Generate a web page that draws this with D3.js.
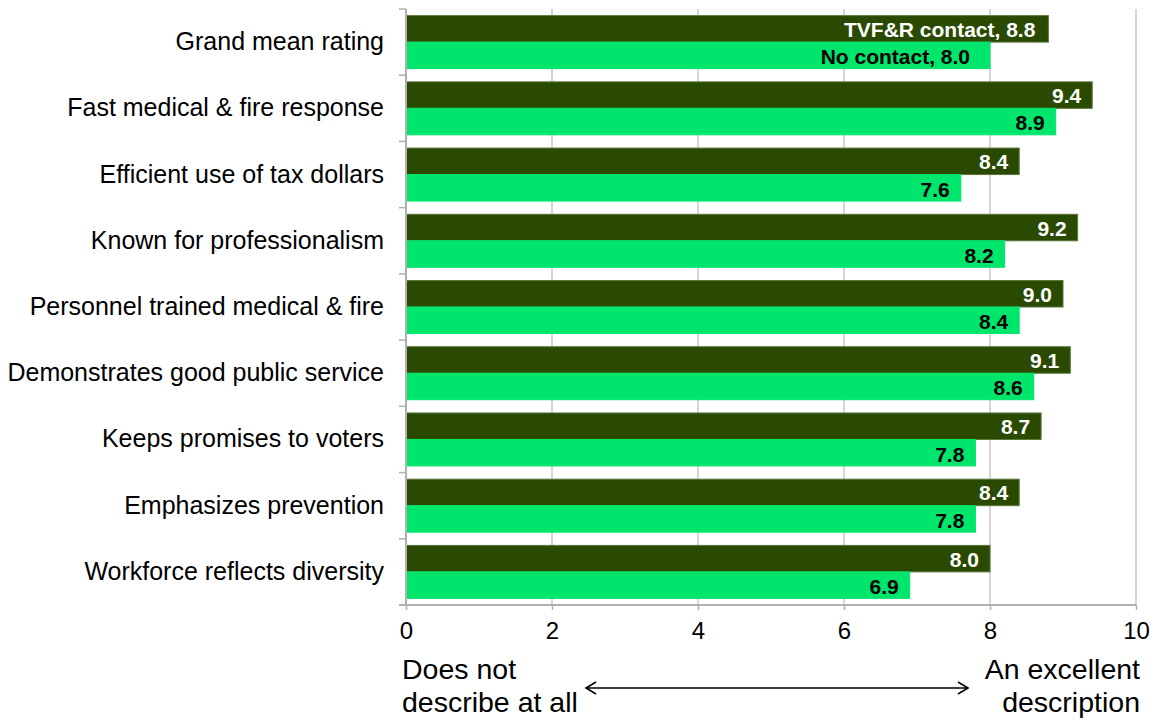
<!DOCTYPE html>
<html>
<head>
<meta charset="utf-8">
<script src="https://cdn.jsdelivr.net/npm/d3@7"></script>
<style>
  html, body { margin: 0; padding: 0; background: #ffffff; }
  svg { display: block; font-family: Arial, "Liberation Sans", sans-serif; }
</style>
</head>
<body>
<svg id="chart" width="1156" height="721"></svg>
<script>
// Ratings on a 0–10 scale, by whether the respondent had contact with TVF&R
const categories = [
  "Grand mean rating",
  "Fast medical & fire response",
  "Efficient use of tax dollars",
  "Known for professionalism",
  "Personnel trained medical & fire",
  "Demonstrates good public service",
  "Keeps promises to voters",
  "Emphasizes prevention",
  "Workforce reflects diversity"
];
const contactValues   = [8.8, 9.4, 8.4, 9.2, 9.0, 9.1, 8.7, 8.4, 8.0];
const noContactValues = [8.0, 8.9, 7.6, 8.2, 8.4, 8.6, 7.8, 7.8, 6.9];
const seriesNames = ["TVF&R contact", "No contact"];
const xTicks = [0, 2, 4, 6, 8, 10];
const scaleLowLabel  = ["Does not", "describe at all"];
const scaleHighLabel = ["An excellent", "description"];

const svg = d3.select("#chart");

const x = d3.scaleLinear().domain([0, 10]).range([406, 1136]);
const y = d3.scaleBand().domain(categories).range([9, 605])
  .paddingInner(0.2).paddingOuter(0.1);
const sub = d3.scaleBand().domain(seriesNames).range([0, y.bandwidth()]);

const colors = { "TVF&R contact": "#294a00", "No contact": "#00e66c" };
const strokes = { "TVF&R contact": "#5b773a", "No contact": "#00e66c" };
const labelColors = { "TVF&R contact": "#ffffff", "No contact": "#000000" };

const rows = categories.map((c, i) => ({
  category: c,
  index: i,
  values: [
    { series: seriesNames[0], value: contactValues[i] },
    { series: seriesNames[1], value: noContactValues[i] }
  ]
}));

// vertical gridlines
svg.append("g").selectAll("line")
  .data(xTicks.filter(d => d > 0))
  .join("line")
  .attr("x1", d => x(d)).attr("x2", d => x(d))
  .attr("y1", 9).attr("y2", 605)
  .attr("stroke", "#c9c9c9").attr("stroke-width", 1.5);

// bars
const groups = svg.append("g").selectAll("g")
  .data(rows)
  .join("g")
  .attr("transform", d => `translate(0,${y(d.category)})`);

groups.selectAll("rect")
  .data(d => d.values)
  .join("rect")
  .attr("x", x(0))
  .attr("y", d => sub(d.series))
  .attr("width", d => x(d.value) - x(0))
  .attr("height", sub.bandwidth())
  .attr("fill", d => colors[d.series])
  .attr("stroke", d => strokes[d.series])
  .attr("stroke-width", 1);

// value labels inside the bar ends; the first group also names the series
const labelInset = (row, d) => {
  if (row.index === 0) return d.series === seriesNames[0] ? 13 : 20;
  return 11;
};
groups.each(function (row) {
  d3.select(this).selectAll("text")
    .data(row.values)
    .join("text")
    .attr("x", d => x(d.value) - labelInset(row, d))
    .attr("y", d => sub(d.series) + sub.bandwidth() / 2)
    .attr("dy", d => d.series === seriesNames[0] ? "0.38em" : "0.42em")
    .attr("text-anchor", "end")
    .attr("font-size", 21)
    .attr("font-weight", "bold")
    .attr("fill", d => labelColors[d.series])
    .text(d => row.index === 0 ? `${d.series}, ${d3.format(".1f")(d.value)}` : d3.format(".1f")(d.value));
});

// category axis
const yAxis = svg.append("g")
  .attr("transform", `translate(${x(0)},0)`)
  .call(d3.axisLeft(y).tickSize(0).tickPadding(22));
yAxis.select(".domain").remove();
yAxis.selectAll("text").attr("font-size", 25).attr("fill", "#000").attr("font-family", "Arial, 'Liberation Sans', sans-serif");

// left axis line with ticks at category boundaries
const boundaries = d3.range(categories.length + 1).map(i => 9 + i * y.step());
svg.append("line")
  .attr("x1", x(0)).attr("x2", x(0)).attr("y1", 9).attr("y2", 605)
  .attr("stroke", "#b0b0b0").attr("stroke-width", 2);
svg.append("g").selectAll("line")
  .data(boundaries)
  .join("line")
  .attr("x1", x(0) - 7).attr("x2", x(0))
  .attr("y1", d => d).attr("y2", d => d)
  .attr("stroke", "#b0b0b0").attr("stroke-width", 1.5);

// value axis
const xAxis = svg.append("g")
  .attr("transform", "translate(0,605)")
  .call(d3.axisBottom(x).tickValues(xTicks).tickSize(5).tickPadding(12).tickFormat(d3.format("d")));
xAxis.select(".domain").attr("stroke", "#b0b0b0").attr("stroke-width", 2)
  .attr("d", `M${x(0) - 7},0H${x(10)}`);
xAxis.selectAll(".tick line").attr("stroke", "#b0b0b0").attr("stroke-width", 1.5);
xAxis.selectAll("text").attr("font-size", 24).attr("fill", "#000").attr("font-family", "Arial, 'Liberation Sans', sans-serif");

// scale-end annotations
const ann = svg.append("g").attr("font-size", 28.5).attr("fill", "#000");
ann.append("text").attr("x", 402).attr("y", 679).text(scaleLowLabel[0]);
ann.append("text").attr("x", 402).attr("y", 712).text(scaleLowLabel[1]);
ann.append("text").attr("x", 1140).attr("y", 679).attr("text-anchor", "end").text(scaleHighLabel[0]);
ann.append("text").attr("x", 1140).attr("y", 712).attr("text-anchor", "end").text(scaleHighLabel[1]);

// double-headed arrow between the annotations
const ay = 688;
const arrow = svg.append("g").attr("stroke", "#000").attr("stroke-width", 1.6).attr("fill", "none");
arrow.append("line").attr("x1", 586).attr("x2", 968).attr("y1", ay).attr("y2", ay);
arrow.append("path").attr("d", `M${596},${ay - 6}L${586},${ay}L${596},${ay + 6}`);
arrow.append("path").attr("d", `M${958},${ay - 6}L${968},${ay}L${958},${ay + 6}`);
</script>
</body>
</html>
